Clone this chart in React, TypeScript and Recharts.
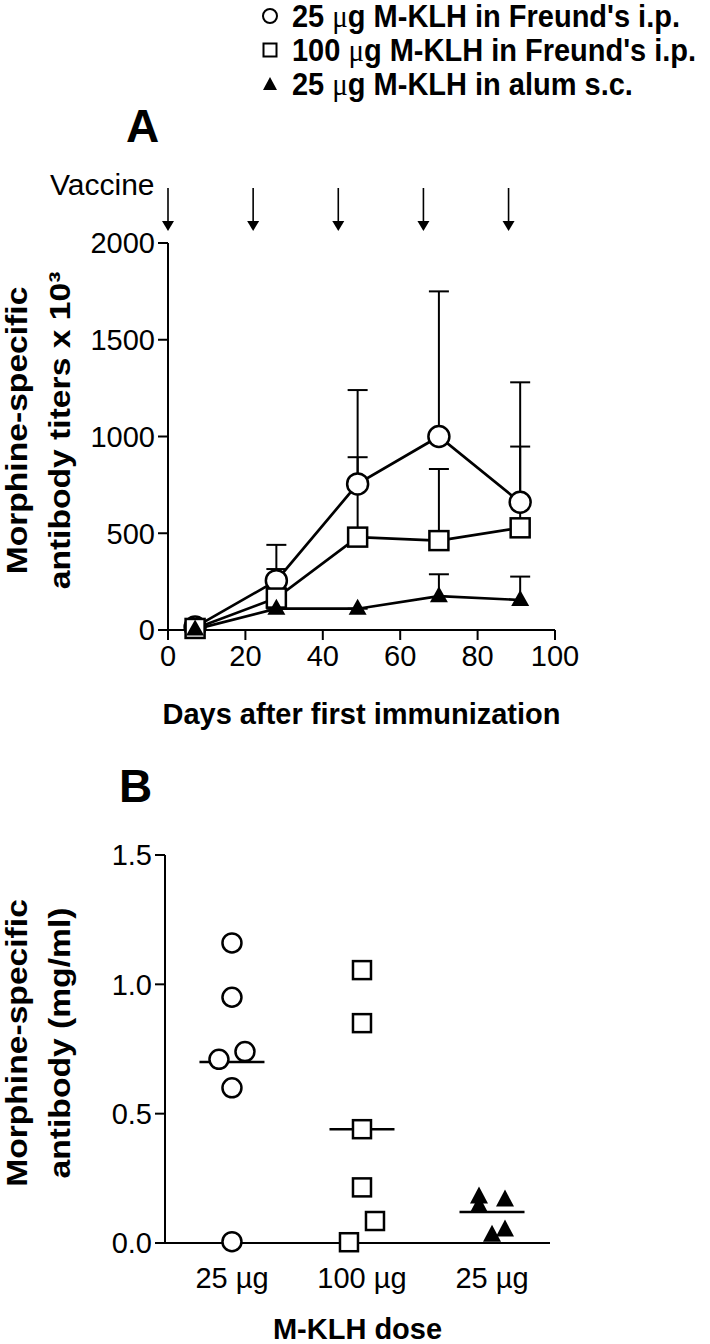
import React from 'react';
import { ComposedChart, ScatterChart, Line, Scatter, XAxis, YAxis, ErrorBar, ReferenceLine } from 'recharts';

// Panel A: titers over time (mean + upper SD)
const days = [7, 28, 49, 70, 91];
const freund25 = [15, 255, 755, 1000, 660];
const freund25Err = [0, 185, 485, 750, 620];
const freund100 = [8, 165, 480, 462, 528];
const freund100Err = [0, 150, 413, 370, 420];
const alum25 = [3, 110, 110, 175, 155];
const alum25Err = [0, 0, 0, 113, 121];
const vaccineDays = [0, 22, 44, 66, 88];
const dayTicks = [0, 20, 40, 60, 80, 100];
const titerTicks = [0, 500, 1000, 1500, 2000];

// Panel B: individual antibody concentrations, x = group + jitter
const doseLabels = ['25 µg', '100 µg', '25 µg'];
const freund25Conc = [1.16, 0.95, 0.71, 0.74, 0.6, 0.005];
const freund25Jitter = [0, 0, -0.1, 0.1, 0, 0];
const freund100Conc = [1.055, 0.85, 0.44, 0.215, 0.085, 0.003];
const freund100Jitter = [0, 0, 0, 0, 0.1, -0.1];
const alum25Conc = [0.178, 0.143, 0.166, 0.03, 0.05];
const alum25Jitter = [-0.1, -0.1, 0.1, 0, 0.1];
const medians = [0.7, 0.44, 0.12];
const concTicks = [0, 0.5, 1.0, 1.5];

const FONT = '"Liberation Sans", Arial, sans-serif';

const timeData = days.map((d, i) => ({
  day: d,
  f25: freund25[i], f25e: freund25Err[i],
  f100: freund100[i], f100e: freund100Err[i],
  alum: alum25[i], alume: alum25Err[i],
}));
const vaccineData = vaccineDays.map((d) => ({ day: d, top: 2000 }));

const groupPoints = (vals: number[], jit: number[], g: number) =>
  vals.map((v, i) => ({ x: g + jit[i], y: v }));

const OpenCircle = (r: number) => (p: any) =>
  <circle key={`c${p.index ?? p.cx}`} cx={p.cx} cy={p.cy} r={r} fill="#fff" stroke="#000" strokeWidth={2.5} />;
const OpenSquare = (s: number) => (p: any) =>
  <rect key={`s${p.index ?? p.cx}`} x={p.cx - s / 2} y={p.cy - s / 2} width={s} height={s} fill="#fff" stroke="#000" strokeWidth={2.5} />;
const FilledTriangle = (w: number, h: number) => (p: any) =>
  <polygon key={`t${p.index ?? p.cx}`} points={`${p.cx},${p.cy - h * 0.62} ${p.cx - w / 2},${p.cy + h * 0.38} ${p.cx + w / 2},${p.cy + h * 0.38}`} fill="#000" />;

const Arrow = (p: any) => (
  <g>
    <line x1={p.cx} y1={p.cy - 55} x2={p.cx} y2={p.cy - 21} stroke="#000" strokeWidth={1.6} />
    <polygon points={`${p.cx - 6},${p.cy - 22} ${p.cx + 6},${p.cy - 22} ${p.cx},${p.cy - 12}`} fill="#000" />
  </g>
);

// two-line rotated axis title, stretched along its length like the original
const yTitle = (lines: React.ReactNode[]) => (props: any) => {
  const vb = props.viewBox;
  const cy = vb.y + vb.height / 2 - 6;
  return (
    <g>
      <text transform={`translate(27,${cy}) rotate(-90) scale(1.16,1)`} textAnchor="middle" fontFamily={FONT} fontWeight="bold" fontSize={29} fill="#000">{lines[0]}</text>
      <text transform={`translate(70,${cy}) rotate(-90) scale(1.16,1)`} textAnchor="middle" fontFamily={FONT} fontWeight="bold" fontSize={29} fill="#000">{lines[1]}</text>
    </g>
  );
};

const legendRows = [
  { label: '25', rest: 'g M-KLH in Freund\'s i.p.', icon: 'circle' },
  { label: '100', rest: 'g M-KLH in Freund\'s i.p.', icon: 'square' },
  { label: '25', rest: 'g M-KLH in alum s.c.', icon: 'triangle' },
];

const axisLine = { stroke: '#000', strokeWidth: 2 };
const tickStyle = { fill: '#000', fontSize: 29, fontFamily: FONT };

export default function App() {
  return (
    <div style={{ position: 'absolute', left: 0, top: 0, width: 710, height: 1344, background: '#fff', fontFamily: FONT }}>
      <style>{`.upOnly .recharts-errorBar line:nth-of-type(3){display:none}`}</style>
      <svg width={710} height={1344} style={{ position: 'absolute', left: 0, top: 0 }}>
        <g transform="translate(262,0)">
          {legendRows.map((r, i) => {
            const cy = 16 + i * 34;
            return (
              <g key={i}>
                {r.icon === 'circle' && <circle cx={8} cy={cy} r={7} fill="#fff" stroke="#000" strokeWidth={2} />}
                {r.icon === 'square' && <rect x={1.5} y={cy - 6.5} width={13} height={13} fill="#fff" stroke="#000" strokeWidth={2} />}
                {r.icon === 'triangle' && <polygon points={`8,${cy - 7} 1,${cy + 6} 15,${cy + 6}`} fill="#000" />}
                <text transform={`translate(30,${cy + 11}) scale(1,1.1)`} fontFamily={FONT} fontWeight="bold" fontSize={29} fill="#000">
                  {r.label} <tspan fontFamily='"Liberation Serif", serif' fontWeight="normal">μ</tspan>{r.rest}
                </text>
              </g>
            );
          })}
        </g>
        <text x={126} y={142} fontFamily={FONT} fontWeight="bold" fontSize={46} fill="#000">A</text>
        <text x={50} y={195} fontFamily={FONT} fontSize={30} fill="#000">Vaccine</text>
        <text x={119} y={802} fontFamily={FONT} fontWeight="bold" fontSize={46} fill="#000">B</text>
      </svg>

      <div style={{ position: 'absolute', left: 0, top: 0 }}>
        <ComposedChart className="upOnly" width={710} height={760} data={timeData}
          margin={{ top: 243, right: 155, bottom: 90, left: 0 }}>
          <XAxis dataKey="day" type="number" domain={[0, 100]} ticks={dayTicks} axisLine={axisLine}
            tickLine={axisLine} tickSize={10} tickMargin={5} tick={tickStyle} height={40}
            label={{ value: 'Days after first immunization', position: 'bottom', offset: 33, fill: '#000', fontSize: 29, fontWeight: 'bold', fontFamily: FONT }} />
          <YAxis type="number" domain={[0, 2000]} ticks={titerTicks} axisLine={axisLine} tickLine={axisLine}
            tickSize={10} tickMargin={3} tick={tickStyle} width={168}
            label={{ content: yTitle(['Morphine-specific', 'antibody titers x 10³']) }} />
          <Line dataKey="f25" stroke="#000" strokeWidth={2.7} isAnimationActive={false} dot={OpenCircle(10.5)}>
            <ErrorBar dataKey={(d: any) => [0, d.f25e]} width={10} stroke="#000" strokeWidth={2} direction="y" />
          </Line>
          <Line dataKey="f100" stroke="#000" strokeWidth={2.7} isAnimationActive={false} dot={OpenSquare(19)}>
            <ErrorBar dataKey={(d: any) => [0, d.f100e]} width={10} stroke="#000" strokeWidth={2} direction="y" />
          </Line>
          <Line dataKey="alum" stroke="#000" strokeWidth={2.7} isAnimationActive={false} dot={FilledTriangle(18, 16)}>
            <ErrorBar dataKey={(d: any) => [0, d.alume]} width={10} stroke="#000" strokeWidth={2} direction="y" />
          </Line>
          <Scatter data={vaccineData} dataKey="top" shape={Arrow} isAnimationActive={false} />
        </ComposedChart>
      </div>

      <div style={{ position: 'absolute', left: 0, top: 760 }}>
        <ScatterChart width={710} height={584} margin={{ top: 95, right: 160, bottom: 61, left: 0 }}>
          <XAxis dataKey="x" type="number" domain={[0.485, 3.446]} ticks={[1, 2, 3]} allowDataOverflow
            tickFormatter={(v: number) => doseLabels[v - 1]} axisLine={axisLine} tickLine={false}
            tickSize={0} tickMargin={24} tick={tickStyle} height={40}
            label={{ value: 'M-KLH dose', position: 'bottom', offset: 35, fill: '#000', fontSize: 29, fontWeight: 'bold', fontFamily: FONT }} />
          <YAxis dataKey="y" type="number" domain={[0, 1.5]} ticks={concTicks} axisLine={axisLine} tickLine={axisLine}
            tickSize={10} tickMargin={3} tick={tickStyle} width={165} tickFormatter={(v: number) => v.toFixed(1)}
            label={{ content: yTitle(['Morphine-specific', 'antibody (mg/ml)']) }} />
          {medians.map((m, i) => (
            <ReferenceLine key={i} segment={[{ x: i + 1 - 0.25, y: m }, { x: i + 1 + 0.25, y: m }]} stroke="#000" strokeWidth={2.5} />
          ))}
          <Scatter data={groupPoints(freund25Conc, freund25Jitter, 1)} shape={OpenCircle(9.5)} isAnimationActive={false} />
          <Scatter data={groupPoints(freund100Conc, freund100Jitter, 2)} shape={OpenSquare(18)} isAnimationActive={false} />
          <Scatter data={groupPoints(alum25Conc, alum25Jitter, 3)} shape={FilledTriangle(18, 17)} isAnimationActive={false} />
        </ScatterChart>
      </div>
    </div>
  );
}
